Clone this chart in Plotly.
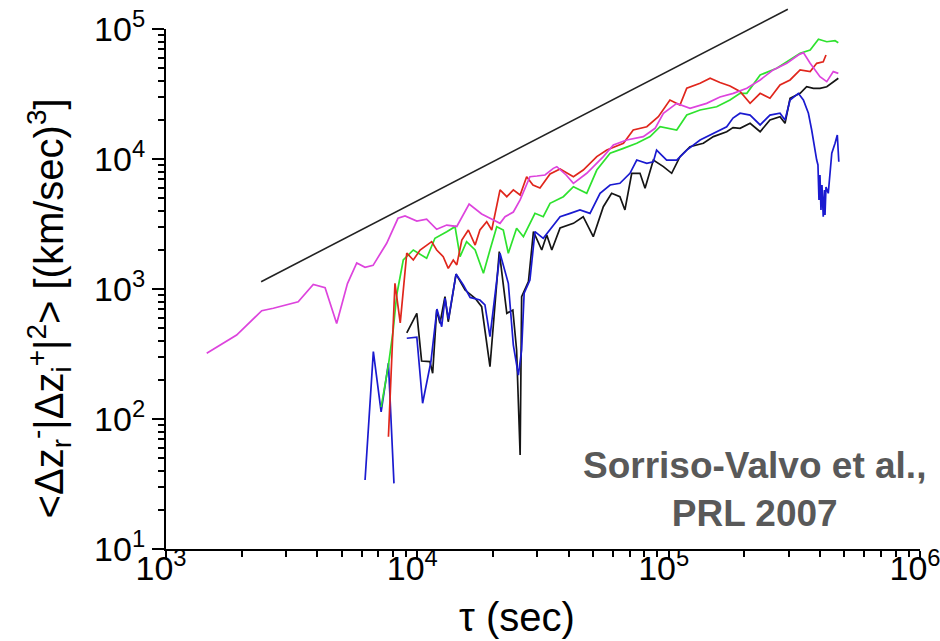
import numpy as np
import plotly.graph_objects as go

# Structure-function curves: log10(tau [s]) and log10(<dz_r^- |dz_i^+|^2> [(km/s)^3])
magenta_logtau = [3.162, 3.281, 3.381, 3.427, 3.526, 3.586, 3.633, 3.679, 3.722, 3.759, 3.792, 3.824,
                  3.878, 3.923, 3.951, 3.998, 4.037, 4.077, 4.117, 4.157, 4.206, 4.256, 4.301, 4.329,
                  4.349, 4.382, 4.409, 4.448, 4.476, 4.508, 4.541, 4.555, 4.592, 4.621, 4.674, 4.740,
                  4.780, 4.833, 4.899, 4.946, 4.979, 5.032, 5.085, 5.151, 5.204, 5.257, 5.311, 5.364,
                  5.416, 5.470, 5.516, 5.536, 5.563, 5.602, 5.629, 5.655, 5.675]
magenta_logval = [2.505, 2.646, 2.833, 2.852, 2.902, 3.035, 3.010, 2.735, 3.042, 3.200, 3.167, 3.182,
                  3.352, 3.544, 3.562, 3.523, 3.538, 3.459, 3.492, 3.481, 3.654, 3.577, 3.533, 3.505,
                  3.556, 3.592, 3.685, 3.864, 3.869, 3.877, 3.928, 3.941, 3.877, 3.813, 3.890, 4.018,
                  4.108, 4.146, 4.172, 4.236, 4.352, 4.428, 4.390, 4.428, 4.477, 4.505, 4.544, 4.608,
                  4.685, 4.736, 4.800, 4.818, 4.736, 4.633, 4.595, 4.672, 4.659]

red_logtau = [3.885, 3.911, 3.932, 3.958, 3.984, 4.011, 4.057, 4.077, 4.103, 4.123, 4.143, 4.157,
              4.177, 4.203, 4.230, 4.249, 4.276, 4.296, 4.329, 4.356, 4.382, 4.409, 4.435, 4.460,
              4.488, 4.528, 4.568, 4.621, 4.660, 4.714, 4.754, 4.820, 4.859, 4.913, 4.959, 5.005,
              5.045, 5.072, 5.125, 5.165, 5.204, 5.244, 5.284, 5.324, 5.364, 5.403, 5.443, 5.483,
              5.523, 5.563, 5.589, 5.615, 5.626]
red_logval = [1.864, 3.044, 2.739, 3.277, 3.223, 3.300, 3.364, 3.300, 3.249, 3.159, 3.223, 3.185,
              3.377, 3.454, 3.338, 3.454, 3.518, 3.454, 3.762, 3.710, 3.762, 3.723, 3.864, 3.800,
              3.777, 3.885, 3.923, 3.864, 3.915, 4.018, 4.069, 4.121, 4.223, 4.248, 4.325, 4.454,
              4.415, 4.544, 4.582, 4.621, 4.588, 4.562, 4.519, 4.428, 4.505, 4.467, 4.569, 4.608,
              4.685, 4.672, 4.736, 4.748, 4.800]

green_logtau = [3.856, 3.885, 3.904, 3.918, 3.944, 3.984, 4.037, 4.070, 4.117, 4.150, 4.170, 4.196,
                4.230, 4.263, 4.289, 4.316, 4.342, 4.362, 4.395, 4.422, 4.468, 4.501, 4.528, 4.581,
                4.621, 4.674, 4.714, 4.767, 4.820, 4.873, 4.926, 4.966, 5.032, 5.072, 5.125, 5.191,
                5.244, 5.284, 5.311, 5.364, 5.430, 5.483, 5.523, 5.563, 5.596, 5.629, 5.662, 5.675]
green_logval = [2.092, 2.415, 2.685, 2.954, 3.223, 3.300, 3.236, 3.390, 3.441, 3.479, 3.249, 3.364,
                3.300, 3.121, 3.300, 3.479, 3.454, 3.275, 3.467, 3.402, 3.582, 3.556, 3.659, 3.710,
                3.787, 3.736, 3.915, 4.044, 4.082, 4.121, 4.172, 4.248, 4.223, 4.338, 4.377, 4.402,
                4.454, 4.505, 4.505, 4.646, 4.698, 4.762, 4.813, 4.838, 4.921, 4.902, 4.910, 4.895]

# the blue curve has a gap (non-positive values are not shown on a log axis)
blue_logtau = [3.792, 3.825, 3.856, 3.885, 3.907, None,
               3.958, 3.998, 4.021, 4.054, 4.078, 4.097, 4.110, 4.124, 4.154, 4.183, 4.210, 4.249,
               4.269, 4.289, 4.329, 4.362, 4.382, 4.402, 4.415, 4.425, 4.448, 4.468, 4.501, 4.528,
               4.568, 4.608, 4.647, 4.687, 4.727, 4.767, 4.806, 4.846, 4.873, 4.913, 4.939, 4.952,
               4.992, 5.032, 5.072, 5.125, 5.178, 5.231, 5.256, 5.284, 5.324, 5.364, 5.403, 5.443,
               5.463, 5.483, 5.516, 5.536, 5.556, 5.569, 5.589, 5.594, 5.598, 5.602, 5.606, 5.610,
               5.615, 5.620, 5.622, 5.626, 5.635, 5.649, 5.662, 5.671, 5.677]
blue_logval = [1.531, 2.518, 2.054, 2.429, 1.505, None,
               2.621, 2.629, 2.121, 2.441, 2.846, 2.710, 2.929, 2.769, 3.115, 3.031, 2.935, 2.915,
               2.877, 2.633, 3.275, 3.044, 2.569, 2.338, 2.531, 2.967, 3.069, 3.441, 3.390, 3.454,
               3.556, 3.582, 3.608, 3.582, 3.736, 3.800, 3.813, 3.890, 3.992, 3.967, 3.979, 4.069,
               3.992, 3.992, 4.069, 4.146, 4.198, 4.248, 4.315, 4.352, 4.338, 4.262, 4.338, 4.352,
               4.300, 4.454, 4.505, 4.454, 4.352, 4.223, 3.992, 3.954, 3.685, 3.877, 3.608, 3.800,
               3.556, 3.762, 3.569, 3.785, 3.736, 4.044, 4.121, 4.185, 3.979]

black_logtau = [3.958, 3.998, 4.017, 4.050, 4.061, 4.077, 4.090, 4.110, 4.123, 4.154, 4.190, 4.230,
                4.256, 4.289, 4.326, 4.356, 4.380, 4.395, 4.409, 4.415, 4.442, 4.462, 4.495, 4.515,
                4.535, 4.568, 4.621, 4.660, 4.700, 4.740, 4.773, 4.806, 4.826, 4.853, 4.886, 4.906,
                4.939, 4.979, 5.012, 5.045, 5.085, 5.138, 5.178, 5.231, 5.256, 5.284, 5.324, 5.364,
                5.403, 5.443, 5.463, 5.483, 5.523, 5.549, 5.576, 5.602, 5.629, 5.655, 5.675]
black_logval = [2.662, 2.813, 2.446, 2.441, 2.352, 2.838, 2.736, 2.941, 2.748, 3.115, 2.992, 2.929,
                2.864, 2.402, 3.287, 2.813, 2.838, 2.531, 1.723, 2.941, 3.056, 3.441, 3.300, 3.415,
                3.300, 3.469, 3.505, 3.556, 3.402, 3.633, 3.736, 3.710, 3.608, 3.890, 3.890, 3.775,
                3.992, 3.941, 3.890, 4.018, 4.095, 4.121, 4.172, 4.210, 4.242, 4.236, 4.275, 4.210,
                4.300, 4.325, 4.275, 4.467, 4.505, 4.556, 4.544, 4.544, 4.556, 4.595, 4.621]

# reference power law tau^1
fit_tau = [2390, 2.98e5]
fit_val = [1138, 1.42e5]

# axis decades
x_decades = [3, 4, 5, 6]
y_decades = [1, 2, 3, 4, 5]


def to_lin(vals):
    return [None if v is None else 10 ** v for v in vals]


def minor_vals(decades):
    return [m * 10.0 ** k for k in decades[:-1] for m in range(2, 10)]


series = [
    (black_logtau, black_logval, "#151515"),
    (blue_logtau, blue_logval, "#1a1ad0"),
    (green_logtau, green_logval, "#2ee22e"),
    (red_logtau, red_logval, "#e0261c"),
    (magenta_logtau, magenta_logval, "#dd44dd"),
]

fig = go.Figure()
# the power-law guide runs past the top decade, so it sits on its own hidden y axis
fig.add_trace(go.Scatter(x=fit_tau, y=fit_val, mode="lines", yaxis="y2",
                         line=dict(color="#222222", width=1.6), showlegend=False))
for lt, lv, col in series:
    fig.add_trace(go.Scatter(x=to_lin(lt), y=to_lin(lv), mode="lines",
                             line=dict(color=col, width=1.7), connectgaps=False,
                             showlegend=False))

tick_font = dict(family="Liberation Sans, Arial", size=34, color="black")


def log_axis(decades, **extra):
    return dict(
        type="log", showgrid=False, zeroline=False, showline=True, automargin=False,
        linecolor="black", linewidth=2, ticks="outside", tickwidth=2, tickcolor="black",
        tickmode="array", tickvals=[10.0 ** d for d in decades],
        ticktext=[f"10<sup>{d}</sup>" for d in decades],
        tickfont=tick_font, ticklabeloverflow="allow",
        minor=dict(ticks="outside", ticklen=6, tickwidth=1.5, tickcolor="black",
                   tickmode="array", tickvals=minor_vals(decades), showgrid=False),
        **extra,
    )


# plot height 541 px spans 1..5.1615 decades (130 px per decade); visible axis stops at 10^5
y_top = 5.1615
fig.update_layout(
    width=940, height=641,
    margin=dict(l=166, r=20, t=8, b=92),
    paper_bgcolor="white", plot_bgcolor="rgba(0,0,0,0)",
    xaxis=dict(range=[3, 6], ticklen=8, ticklabelstandoff=-20, ticklabelshift=-5,
               **log_axis(x_decades)),
    yaxis=dict(range=[1, 5], domain=[0, 4 / (y_top - 1)], ticklen=12,
               **log_axis(y_decades)),
    yaxis2=dict(type="log", range=[1, y_top], domain=[0, 1], anchor="x", visible=False,
                automargin=False),
    annotations=[
        dict(text="τ (sec)", xref="paper", yref="paper", x=0.4655, y=-0.125,
             showarrow=False, xanchor="center", yanchor="middle",
             font=dict(family="Liberation Sans, Arial", size=40, color="black")),
        dict(text="&lt;Δz<sub>r</sub><sup>-</sup>|Δz<sub>i</sub><sup>+</sup>|<sup>2</sup>&gt; "
                  "[(km/sec)<sup>3</sup>]",
             xref="paper", yref="paper", x=-0.155, y=0.445, textangle=-90,
             showarrow=False, xanchor="center", yanchor="middle",
             font=dict(family="Liberation Sans, Arial", size=40, color="black")),
        dict(text="<b>Sorriso-Valvo et al.,<br>PRL 2007</b>", xref="paper", yref="paper",
             x=0.781, y=0.110, showarrow=False, xanchor="center", yanchor="middle",
             align="center",
             font=dict(family="Liberation Sans, Arial", size=37, color="#595959")),
    ],
)

fig.write_html("out.html")
